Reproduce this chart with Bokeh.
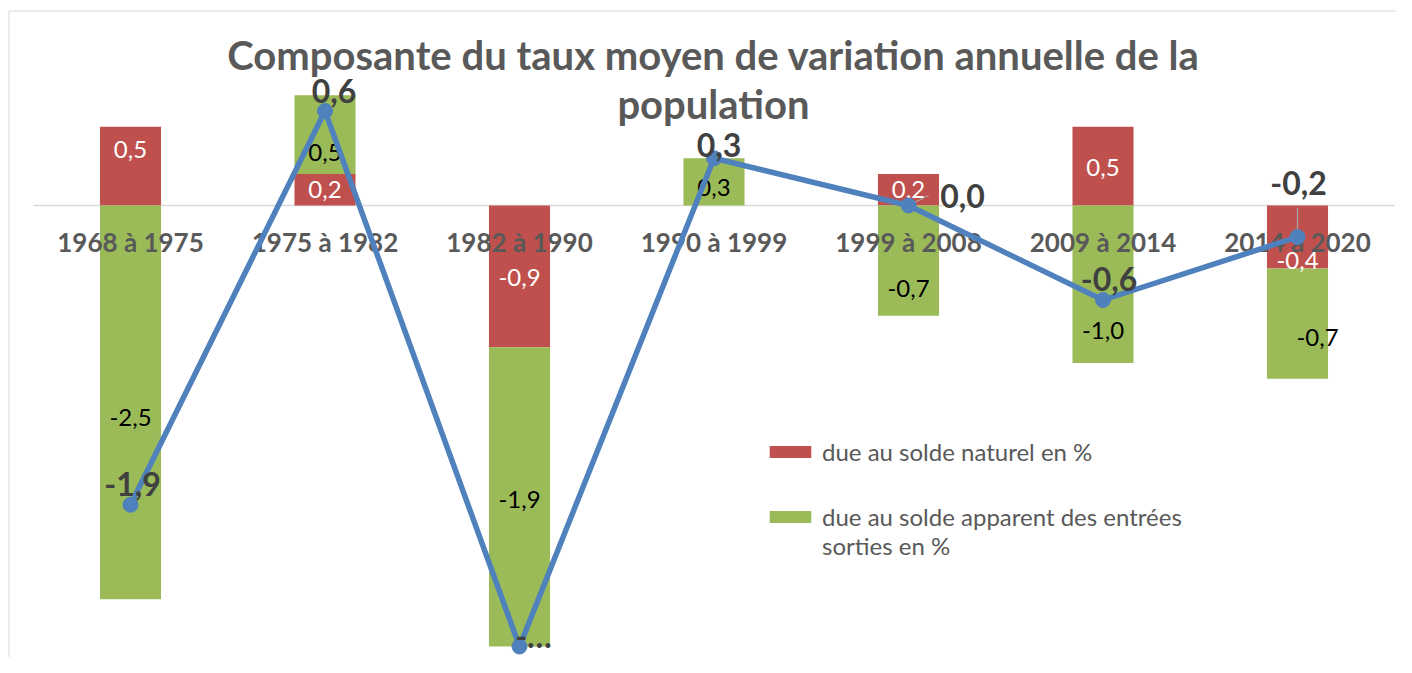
from bokeh.plotting import figure
from bokeh.models import ColumnDataSource, Range1d, Label, Legend, LegendItem
from bokeh.core.properties import value
from bokeh.embed import file_html
from bokeh.resources import INLINE

# ---------------- data ----------------
categories = ["1968 à 1975", "1975 à 1982", "1982 à 1990", "1990 à 1999",
              "1999 à 2008", "2009 à 2014", "2014 à 2020"]
solde_naturel = [0.5, 0.2, -0.9, 0.0, 0.2, 0.5, -0.4]
solde_apparent = [-2.5, 0.5, -1.9, 0.3, -0.7, -1.0, -0.7]
taux_total = [-1.9, 0.6, -2.8, 0.3, 0.0, -0.6, -0.2]
taux_total_labels = ["-1,9", "0,6", "-…", "0,3", "0,0", "-0,6", "-0,2"]
series_names = ["due au solde naturel en %",
                "due au solde apparent des entrées\nsorties en %"]
title_text = "Composante du taux moyen de variation annuelle de la\npopulation"

# ---------------- layout / style ----------------
W, H = 1396, 657
X_UNIT, X0_PX = 194.5, 32.75     # px per category, px where category 0 starts
Y_UNIT, Y0_PX = 157.5, 205.0     # px per unit, px of the zero line from top
RED, GREEN, BLUE = "#C0504D", "#9BBB59", "#4F81BD"
GRID = "#D9D9D9"
FONT = "Lato"

# label pixel nudges (dx, dy; dy positive = downwards)
red_dx = [0, 0, 0, 0, 0, 0, 0]
red_dy = [-17, 0, 1, 0, 0, 1, 23]
green_dx = [0, 0, 0, 0, 0, 0, 20]
green_dy = [15, 18, 3, 6, 28, 46, 14]
tot_dx = [2, 9, 14, 5, 54, 6, 1]
tot_dy = [-21, -20, -11, -13, -10, -21, -54]
leaders = {4: (20, -10), 6: (0, -29)}

n = len(categories)
xs = [i + 0.5 for i in range(n)]


def fmt(v):
    return f"{v:.1f}".replace(".", ",")


def stack(series_list):
    pos = [0.0] * n
    neg = [0.0] * n
    out = []
    for s in series_list:
        bottoms, tops = [], []
        for i, v in enumerate(s):
            if v >= 0:
                b, t = pos[i], pos[i] + v
                pos[i] = t
            else:
                t, b = neg[i], neg[i] + v
                neg[i] = b
            bottoms.append(b)
            tops.append(t)
        out.append((bottoms, tops))
    return out


(red_b, red_t), (green_b, green_t) = stack([solde_naturel, solde_apparent])

xr = Range1d(-X0_PX / X_UNIT, (W - X0_PX) / X_UNIT)
yr = Range1d(-(H - Y0_PX) / Y_UNIT, Y0_PX / Y_UNIT)
p = figure(width=W, height=H, output_backend="svg", toolbar_location=None,
           x_range=xr, y_range=yr,
           x_axis_location=None, y_axis_location=None,
           min_border=0, min_border_left=0, min_border_right=0,
           min_border_top=0, min_border_bottom=0)
p.outline_line_color = None
p.xgrid.visible = False
p.ygrid.visible = False
p.background_fill_color = "white"
p.border_fill_color = "white"

# chart-area border (left and top edges are visible)
bx = xr.start + 8.5 / X_UNIT
by = yr.end - 10.5 / Y_UNIT
p.segment(x0=[bx, bx], y0=[by, by], x1=[bx, xr.end], y1=[yr.start, by],
          line_color=GRID, line_width=1)

# zero axis line
p.segment(x0=[0], x1=[n], y0=[0], y1=[0], line_color=GRID, line_width=1.5)

red_src = ColumnDataSource(dict(x=xs, bottom=red_b, top=red_t))
green_src = ColumnDataSource(dict(x=xs, bottom=green_b, top=green_t))
r_red = p.vbar(x="x", bottom="bottom", top="top", width=0.314, source=red_src,
               fill_color=RED, line_color=None)
r_green = p.vbar(x="x", bottom="bottom", top="top", width=0.314, source=green_src,
                 fill_color=GREEN, line_color=None)


def label_source(vals, bots, tops, dx, dy):
    d = dict(x=[], y=[], text=[], dx=[], dy=[])
    for i, v in enumerate(vals):
        if v == 0:
            continue
        d["x"].append(xs[i])
        d["y"].append((bots[i] + tops[i]) / 2)
        d["text"].append(fmt(v))
        d["dx"].append(dx[i])
        d["dy"].append(dy[i])
    return ColumnDataSource(d)


p.text(x="x", y="y", text="text", x_offset="dx", y_offset="dy",
       source=label_source(solde_naturel, red_b, red_t, red_dx, red_dy),
       text_align="center", text_baseline="middle", text_color="white",
       text_font=value(FONT), text_font_size=value("24px"))
p.text(x="x", y="y", text="text", x_offset="dx", y_offset="dy",
       source=label_source(solde_apparent, green_b, green_t, green_dx, green_dy),
       text_align="center", text_baseline="middle", text_color="black",
       text_font=value(FONT), text_font_size=value("24px"))

# category labels next to the zero axis
p.text(x=xs, y=[0] * n, text=categories, y_offset=36,
       text_align="center", text_baseline="middle", text_color="#595959",
       text_font=value(FONT), text_font_style="bold", text_font_size=value("26px"))

# leader lines
lx0, ly0, lx1, ly1 = [], [], [], []
for i, (ddx, ddy) in leaders.items():
    lx0.append(xs[i]); ly0.append(taux_total[i])
    lx1.append(xs[i] + ddx / X_UNIT); ly1.append(taux_total[i] - ddy / Y_UNIT)
p.segment(x0=lx0, y0=ly0, x1=lx1, y1=ly1, line_color="#A6A6A6", line_width=1.2)

# total line
tot_src = ColumnDataSource(dict(x=xs, y=taux_total, text=taux_total_labels,
                                dx=tot_dx, dy=tot_dy))
p.line(x="x", y="y", source=tot_src, line_color=BLUE, line_width=5.5,
       line_join="round")
p.scatter(x="x", y="y", source=tot_src, size=15, fill_color=BLUE, line_color=BLUE)
p.text(x="x", y="y", text="text", x_offset="dx", y_offset="dy", source=tot_src,
       text_align="center", text_baseline="middle", text_color="#404040",
       text_font=value(FONT), text_font_style="bold", text_font_size=value("32px"))

# title
p.add_layout(Label(x=713, y=H - 30, x_units="screen", y_units="screen",
                   text=title_text, text_align="center", text_baseline="top",
                   text_font=FONT, text_font_style="bold", text_font_size="40px",
                   text_color="#595959", text_line_height=1.04))

# legend (leading blank line keeps the swatch level with the first text line)
legend = Legend(items=[LegendItem(label=series_names[0], renderers=[r_red]),
                       LegendItem(label="\n" + series_names[1], renderers=[r_green])],
                location=(764, 97), orientation="vertical",
                glyph_width=52, glyph_height=15, label_standoff=6, spacing=7,
                padding=0, margin=0, border_line_alpha=0, background_fill_alpha=0,
                label_text_font=FONT, label_text_font_size="24px",
                label_text_color="#595959", label_text_line_height=1.2)
p.add_layout(legend)

open("out.html", "w").write(file_html(p, INLINE))
